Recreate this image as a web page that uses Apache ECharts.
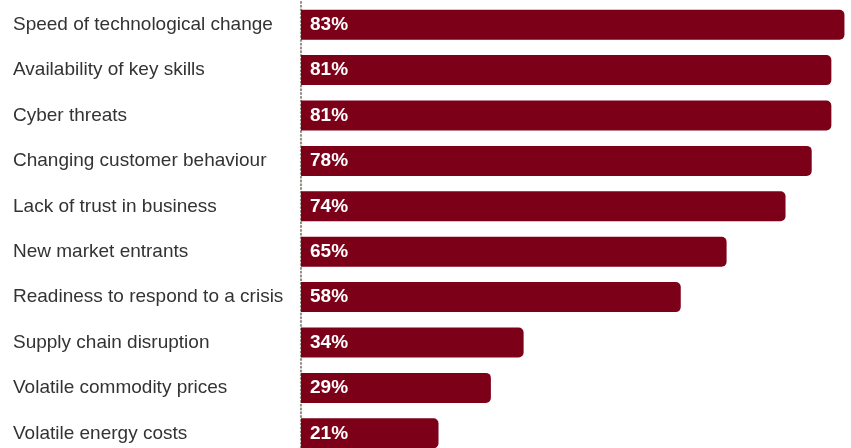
<!DOCTYPE html>
<html><head><meta charset="utf-8">
<script src="https://cdn.jsdelivr.net/npm/echarts@6/dist/echarts.min.js"></script>
<style>html,body{margin:0;padding:0;background:#fff}#c{width:851px;height:448px}</style>
</head><body><div id="c"></div>
<script>
const categories = ["Speed of technological change","Availability of key skills","Cyber threats","Changing customer behaviour","Lack of trust in business","New market entrants","Readiness to respond to a crisis","Supply chain disruption","Volatile commodity prices","Volatile energy costs"];
const values = [83,81,81,78,74,65,58,34,29,21];
const chart = echarts.init(document.getElementById('c'));
chart.setOption({
  animation:false,
  grid:{left:301,width:550,top:2,height:454,containLabel:false,outerBoundsMode:'none'},
  xAxis:{type:'value',min:0,max:84,show:false},
  yAxis:{type:'category',data:categories,inverse:true,
    axisLine:{show:true,lineStyle:{color:'#958f86',type:[0.8,3],cap:'round',width:2.2}},
    axisTick:{show:false},
    axisLabel:{align:'left',margin:288,fontFamily:'Liberation Sans, Arial, sans-serif',fontSize:19,color:'#333333'}
  },
  series:[{type:'bar',data:values,barWidth:30,
    itemStyle:{color:'#7d0019',borderRadius:[0,5,5,0]},
    label:{show:true,position:'insideLeft',distance:9,formatter:'{c}%',color:'#fff',fontWeight:'bold',fontSize:19,fontFamily:'Liberation Sans, Arial, sans-serif'}
  }]
});
</script></body></html>
